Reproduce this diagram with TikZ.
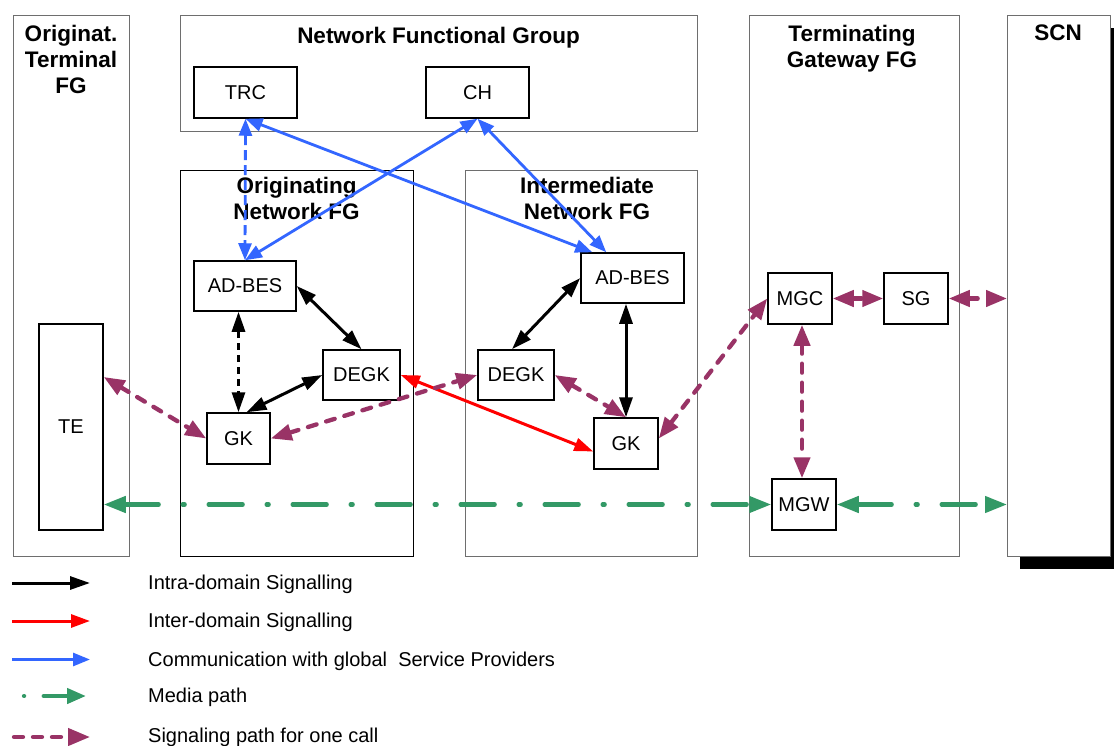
\documentclass[tikz,border=0pt]{standalone}
\usepackage{fontspec}
\setmainfont{Liberation Sans}
\usetikzlibrary{arrows.meta,calc}

\definecolor{sigblue}{RGB}{51,102,255}
\definecolor{sigpurple}{RGB}{153,51,102}
\definecolor{mediagreen}{RGB}{51,153,102}
\definecolor{framegray}{RGB}{110,110,110}

\tikzset{
  ktip/.tip={Triangle[length=20pt,width=13pt]},
  rtip/.tip={Triangle[length=19pt,width=13pt]},
  btip/.tip={Triangle[length=17pt,width=13pt]},
  ptip/.tip={Triangle[length=21pt,width=16pt]},
  gtip/.tip={Triangle[length=22pt,width=16pt]},
  group/.style={draw=framegray, line width=1.2pt, anchor=north west, inner sep=0pt, fill=white},
  grouptitle/.style={font=\fontsize{22.5}{26}\selectfont\bfseries, align=center, inner sep=0pt, text depth=0pt},
  fe/.style={draw=black, line width=1.5pt, fill=white, inner sep=0pt, text depth=0pt,
             font=\fontsize{20}{24}\selectfont},
  legendtext/.style={anchor=west, inner sep=0pt, text depth=0pt, font=\fontsize{20}{24}\selectfont},
  intra/.style={line width=3pt, black, arrows={ktip-ktip}},
  intrad/.style={intra, dash pattern=on 7pt off 5pt},
  inter/.style={line width=3pt, red, arrows={rtip-rtip}},
  glob/.style={line width=2.8pt, sigblue, arrows={btip-btip}},
  globd/.style={glob, dash pattern=on 10pt off 5pt},
  sigcall/.style={line width=4.3pt, sigpurple, line cap=round, dash pattern=on 9pt off 10pt, arrows={ptip-ptip}},
  media/.style={line width=4.3pt, mediagreen, line cap=round, dash pattern=on 34pt off 24pt on 2pt off 24pt, arrows={gtip-gtip}},
}

\begin{document}
\begin{tikzpicture}[x=1pt,y=-1pt]
\useasboundingbox[fill=white] (0,0) rectangle (1114,746);

% shadow behind the SCN column
\fill[black] (1020,28) rectangle (1114,569);

% functional groups
\node[group, minimum width=116pt, minimum height=541pt] (otfg) at (13,15) {};
\node[group, minimum width=517pt, minimum height=116pt] (nfg) at (180,15) {};
\node[group, draw=black, minimum width=233pt, minimum height=386pt] (onfg) at (180,170) {};
\node[group, minimum width=232pt, minimum height=386pt] (infg) at (465,170) {};
\node[group, minimum width=210pt, minimum height=541pt] (tgfg) at (749,15) {};
\node[group, minimum width=103pt, minimum height=541pt] (scn) at (1007,15) {};

% group titles
\node[grouptitle] (otfgT) at (71,59) {Originat.\\Terminal\\FG};
\node[grouptitle] (nfgT) at (438.5,35) {Network Functional Group};
\node[grouptitle] (onfgT) at (296.5,198) {Originating\\Network FG};
\node[grouptitle] (infgT) at (587,198) {Intermediate\\Network FG};
\node[grouptitle] (tgfgT) at (852,46) {Terminating\\Gateway FG};
\node[grouptitle] (scnT) at (1058,33) {SCN};

% functional entities
\node[fe, minimum width=103pt, minimum height=51pt] (trc) at (245.5,92.5) {TRC};
\node[fe, minimum width=103pt, minimum height=51pt] (ch) at (477.5,92.5) {CH};
\node[fe, minimum width=102pt, minimum height=50pt] (adbes1) at (245,286) {AD-BES};
\node[fe, minimum width=77pt, minimum height=50pt] (degk1) at (361.5,375) {DEGK};
\node[fe, minimum width=63pt, minimum height=51pt] (gk1) at (238.5,438.5) {GK};
\node[fe, minimum width=76pt, minimum height=50pt] (degk2) at (516,375) {DEGK};
\node[fe, minimum width=103pt, minimum height=50pt] (adbes2) at (632.5,278) {AD-BES};
\node[fe, minimum width=64pt, minimum height=51pt] (gk2) at (626,443.5) {GK};
\node[fe, minimum width=64pt, minimum height=51pt] (mgc) at (800,298.5) {MGC};
\node[fe, minimum width=64pt, minimum height=51pt] (sg) at (916,298.5) {SG};
\node[fe, minimum width=64pt, minimum height=51pt] (mgw) at (804,504.5) {MGW};
\node[fe, minimum width=64pt, minimum height=206pt] (te) at (71,427) {TE};

% attachment points
\coordinate (tegk) at ($(te.east)+(0,-50)$);
\coordinate (gkmgc) at ($(gk2.east)+(0,-5)$);
\coordinate (mgcs) at ($(mgc.south)+(2,0)$);
\coordinate (gkdegk) at ($(gk1.north)+(8,0)$);
\coordinate (degkn) at ($(degk2.north)+(-4,0)$);
\coordinate (gkred) at ($(gk2.west)+(0,8)$);
\coordinate (adbtrc) at ($(adbes2.north west)+(12,0)$);
\coordinate (adbch) at ($(adbes2.north west)+(26,0)$);

% communication with global service providers
\draw[globd] (trc.south) -- (adbes1.north);
\draw[glob] (trc.south) -- (adbtrc);
\draw[glob] (ch.south) -- (adbes1.north);
\draw[glob] (ch.south) -- (adbch);

% intra-domain signalling
\draw[intra] (adbes1.east) -- (degk1.north);
\draw[intrad] (gk1.north |- adbes1.south) -- (gk1.north);
\draw[intra] (gkdegk) -- (degk1.west);
\draw[intra] (adbes2.west) -- (degkn);
\draw[intra] (gk2.north |- adbes2.south) -- (gk2.north);

% inter-domain signalling
\draw[inter] (degk1.east) -- (gkred);

% signalling path for one call
\draw[sigcall] (tegk) -- (gk1.west);
\draw[sigcall] (gk1.east) -- (degk2.west);
\draw[sigcall] (degk2.east) -- (gk2.north);
\draw[sigcall] (gkmgc) -- (mgc.west);
\draw[sigcall] (mgc.east) -- (sg.west);
\draw[sigcall] (sg.east) -- (scn.west |- sg.east);
\draw[sigcall] (mgcs) -- (mgcs |- mgw.north);

% media path
\draw[media] (te.east |- mgw.west) -- (mgw.west);
\draw[media] (mgw.east) -- (scn.west |- mgw.east);

% legend
\coordinate (k1) at (12,583);   \coordinate (k2) at (90,583);
\coordinate (r1) at (12,621);   \coordinate (r2) at (90,621);
\coordinate (b1) at (12,659.5); \coordinate (b2) at (90,659.5);
\coordinate (g1) at (24,696);   \coordinate (g2) at (86,696);
\coordinate (p1) at (14,737);   \coordinate (p2) at (90,737);
\draw[intra, arrows={-ktip}] (k1) -- (k2);
\draw[inter, arrows={-rtip}] (r1) -- (r2);
\draw[glob, arrows={-btip}] (b1) -- (b2);
\draw[media, arrows={-{Triangle[length=19pt,width=15pt]}}, dash pattern=on 0.1pt off 19.6pt on 60pt off 0pt] (g1) -- (g2);
\draw[sigcall, arrows={-{Triangle[length=22pt,width=17pt]}}] (p1) -- (p2);

\node[legendtext] (t1) at (148,582.5) {Intra-domain Signalling};
\node[legendtext] (t2) at (148,620.5) {Inter-domain Signalling};
\node[legendtext] (t3) at (148,659) {Communication with global~ Service Providers};
\node[legendtext] (t4) at (148,695) {Media path};
\node[legendtext] (t5) at (148,735.5) {Signaling path for one call};
\end{tikzpicture}
\end{document}
